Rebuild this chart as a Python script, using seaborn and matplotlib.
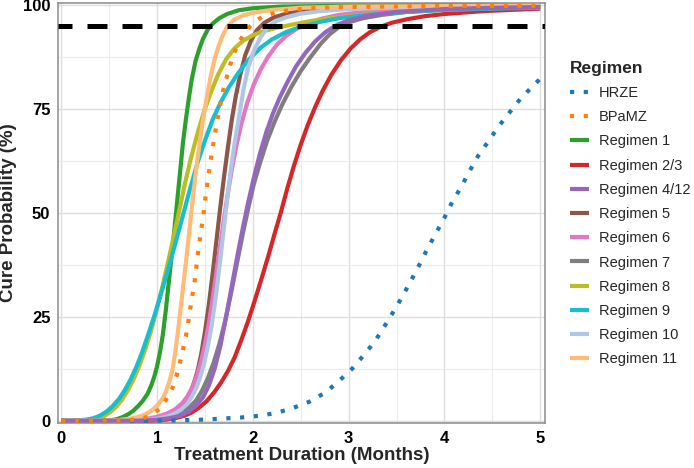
import pandas as pd
import matplotlib.pyplot as plt
import seaborn as sns

# --- Curves: (months, cure %) ---
hrze_x = [0, 1.0, 1.2, 1.35, 1.503, 1.69, 1.879, 2.064, 2.244, 2.42, 2.59, 2.756, 2.89, 3.035, 3.15, 3.27,
          3.37, 3.466, 3.56, 3.65, 3.737, 3.82, 3.91, 4.0, 4.08, 4.175, 4.26, 4.35, 4.457, 4.56,
          4.676, 4.79, 4.92, 5.0]
hrze_y = [0, 0.02, 0.1, 0.2, 0.3, 0.55, 0.8, 1.2, 1.9, 3.1, 4.6, 6.8, 9.4, 12.5, 15.6, 19,
          22.6, 26.2, 29.9, 33.7, 37.5, 41.3, 45.1, 48.9, 52.6, 56.3, 60, 63.7, 67.2, 70.7,
          74.1, 77.4, 80.5, 82.3]

bpamz_x = [0, 0.6, 0.75, 0.85, 0.92, 0.963, 1.02, 1.075, 1.16, 1.218, 1.26, 1.30, 1.33, 1.357, 1.388,
           1.41, 1.433, 1.458, 1.485, 1.506, 1.531, 1.558, 1.587, 1.618, 1.65, 1.688, 1.736, 1.79,
           1.861, 1.92, 1.973, 2.04, 2.119, 2.25, 2.4, 2.7, 3.0, 4.0, 5.0]
bpamz_y = [0, 0.05, 0.25, 0.6, 1.1, 1.7, 2.8, 4.3, 7.9, 12, 16.1, 20.3, 24.5, 28.7, 32.9,
           37.2, 41.5, 45.7, 49.9, 54.1, 58.3, 62.5, 66.7, 71, 75, 79.4, 83.5, 87.8,
           91.4, 93.5, 95, 96.4, 97.5, 98.3, 98.9, 99.4, 99.6, 99.85, 99.9]

r1_x = [0, 0.4, 0.5, 0.58, 0.64, 0.70, 0.75, 0.80, 0.85, 0.90, 0.94, 0.97, 1.00, 1.03, 1.06, 1.09,
        1.12, 1.15, 1.18, 1.21, 1.24, 1.27, 1.30, 1.33, 1.36, 1.40, 1.44, 1.48, 1.53, 1.58, 1.65,
        1.73, 1.85, 2.0, 2.3, 3.0, 5.0]
r1_y = [0, 0.0, 0.1, 0.4, 0.9, 1.6, 2.4, 3.5, 4.8, 6.5, 8.6, 10.6, 13.2, 16.5, 20.8, 26.5,
        33, 39.5, 46, 53, 60, 67, 72.5, 77.5, 82, 86.5, 89.5, 92, 94.2, 95.6, 96.9,
        97.9, 98.8, 99.3, 99.7, 99.9, 99.95]

r23_x = [0, 0.8, 0.95, 1.1, 1.2, 1.28, 1.36, 1.44, 1.52, 1.60, 1.67, 1.74, 1.81, 1.88, 1.95, 2.02,
         2.09, 2.16, 2.22, 2.29, 2.36, 2.43, 2.50, 2.57, 2.65, 2.73, 2.82, 2.92, 3.02, 3.12, 3.22,
         3.33, 3.45, 3.6, 3.8, 4.0, 4.4, 5.0]
r23_y = [0, 0.02, 0.1, 0.3, 0.7, 1.2, 2, 3.2, 4.8, 7, 9.3, 12, 15.3, 19.5, 24, 29,
         34.2, 39.6, 44.5, 50, 56, 61.5, 66.5, 71, 75.5, 79.5, 83.3, 86.8, 89.6, 91.8, 93.5,
         94.8, 95.8, 96.6, 97.4, 97.9, 98.6, 99.2]

r412_x = [0, 0.8, 1.0, 1.12, 1.24, 1.33, 1.41, 1.48, 1.54, 1.60, 1.66, 1.72, 1.78, 1.84, 1.90, 1.95,
          2.01, 2.07, 2.14, 2.21, 2.28, 2.36, 2.45, 2.55, 2.65, 2.76, 2.88, 3.0, 3.2, 3.5, 4.0,
          4.5, 5.0]
r412_y = [0, 0.03, 0.25, 0.6, 1.2, 2.2, 3.7, 5.7, 8.5, 12.5, 18, 25, 32.5, 40, 47, 52.5,
          58.5, 64, 69.5, 74, 77.8, 81.5, 85.3, 88.6, 91.3, 93.6, 95.3, 96.4, 97.5, 98.4, 99.1,
          99.4, 99.6]

r5_x = [0, 0.7, 0.9, 1.0, 1.08, 1.16, 1.23, 1.29, 1.34, 1.38, 1.42, 1.46, 1.50, 1.54, 1.58, 1.62,
        1.66, 1.70, 1.74, 1.78, 1.82, 1.87, 1.92, 1.98, 2.04, 2.12, 2.22, 2.35, 2.6, 3.0, 4.0, 5.0]
r5_y = [0, 0.03, 0.3, 0.6, 1.1, 1.9, 3.0, 4.5, 6.5, 8.8, 11.8, 16, 21.5, 28, 35.5, 43.5,
        51.5, 59, 66, 72.5, 78, 83.5, 88, 91.5, 94, 95.8, 97.1, 98.0, 98.9, 99.5, 99.8, 99.9]

r6_x = [0, 0.6, 0.8, 0.92, 1.02, 1.11, 1.19, 1.26, 1.32, 1.37, 1.42, 1.46, 1.50, 1.54, 1.58, 1.62,
        1.66, 1.70, 1.74, 1.78, 1.83, 1.88, 1.94, 2.01, 2.08, 2.16, 2.25, 2.35, 2.46, 2.58, 2.72,
        2.9, 3.2, 3.6, 4.2, 5.0]
r6_y = [0, 0.03, 0.25, 0.6, 1.1, 1.8, 2.8, 4.2, 6, 8.2, 11.2, 14.5, 18.5, 23.5, 29.5, 36,
        42.5, 49, 55, 60.5, 66.5, 71.5, 76.5, 81, 84.5, 87.7, 90.5, 92.7, 94.4, 95.7, 96.8,
        97.7, 98.5, 99.0, 99.4, 99.7]

r7_x = [0, 0.75, 0.95, 1.08, 1.17, 1.26, 1.34, 1.41, 1.47, 1.53, 1.59, 1.65, 1.71, 1.77, 1.83, 1.89,
        1.95, 2.01, 2.08, 2.15, 2.23, 2.31, 2.40, 2.50, 2.60, 2.71, 2.80, 2.90, 3.0, 3.15, 3.35,
        3.6, 4.0, 4.5, 5.0]
r7_y = [0, 0.03, 0.3, 0.7, 1.2, 2.0, 3.3, 5, 7.3, 10.3, 14, 18.5, 24, 30.5, 37.5, 44.5,
        51, 57, 62.5, 67.5, 72.2, 76.3, 80.3, 84.2, 87.5, 90.8, 93, 94.8, 95.9, 96.9, 97.7,
        98.4, 99.0, 99.4, 99.6]

r8_x = [0, 0.2, 0.3, 0.38, 0.45, 0.51, 0.57, 0.63, 0.69, 0.75, 0.81, 0.87, 0.93, 0.99, 1.05, 1.11,
        1.17, 1.23, 1.29, 1.35, 1.42, 1.49, 1.56, 1.64, 1.72, 1.81, 1.9, 2.0, 2.1, 2.25, 2.4,
        2.6, 2.8, 3.1, 3.5, 4.0, 4.5, 5.0]
r8_y = [0, 0.05, 0.25, 0.6, 1.2, 2.1, 3.3, 5, 7.2, 9.8, 13, 16.8, 21.2, 26.2, 31.8, 37.8,
        44, 50.5, 57, 63, 69, 74.5, 79, 83.5, 87, 89.7, 91.5, 92.8, 93.7, 94.6, 95.3,
        96.2, 96.9, 97.6, 98.3, 98.9, 99.3, 99.5]

r9_x = [0, 0.15, 0.25, 0.33, 0.40, 0.47, 0.53, 0.60, 0.66, 0.72, 0.78, 0.84, 0.90, 0.96, 1.02, 1.08,
        1.14, 1.20, 1.27, 1.34, 1.42, 1.50, 1.58, 1.66, 1.75, 1.85, 1.96, 2.08, 2.2, 2.35, 2.5,
        2.7, 2.9, 3.2, 3.6, 4.0, 4.5, 5.0]
r9_y = [0, 0.05, 0.25, 0.6, 1.2, 2.2, 3.4, 5.2, 7.3, 9.8, 12.8, 16.3, 20.3, 24.5, 29, 33.7,
        38.5, 43.5, 49.5, 55.5, 62, 67.5, 72.5, 76.5, 80.3, 83.8, 87, 89.8, 91.8, 93.6, 94.8,
        96, 96.9, 97.7, 98.4, 98.9, 99.2, 99.4]

r10_x = [0, 0.7, 0.92, 1.02, 1.10, 1.18, 1.25, 1.31, 1.36, 1.41, 1.45, 1.49, 1.53, 1.57, 1.61, 1.65,
         1.69, 1.73, 1.77, 1.81, 1.85, 1.90, 1.95, 2.01, 2.08, 2.16, 2.25, 2.36, 2.5, 2.7, 3.0,
         3.5, 4.2, 5.0]
r10_y = [0, 0.03, 0.3, 0.6, 1.0, 1.7, 2.7, 4, 5.7, 8, 10.5, 13.8, 18, 23, 29.5, 37,
         45, 53, 60.5, 67, 72.5, 79.5, 85, 89, 92.3, 94.8, 96.3, 97.2, 98.0, 98.6, 99.1,
         99.5, 99.8, 99.9]

r11_x = [0, 0.5, 0.6, 0.7, 0.78, 0.85, 0.92, 0.98, 1.03, 1.07, 1.10, 1.13, 1.16, 1.19, 1.22, 1.25,
         1.28, 1.31, 1.34, 1.37, 1.40, 1.43, 1.46, 1.49, 1.52, 1.56, 1.60, 1.64, 1.68, 1.73, 1.80,
         1.90, 2.0, 2.2, 2.5, 3.0, 5.0]
r11_y = [0, 0.05, 0.2, 0.45, 0.8, 1.3, 2.1, 3.2, 4.5, 5.9, 7.5, 9.6, 12.3, 16.5, 22, 28,
         34, 40, 46.5, 53, 59, 64.5, 69.5, 74, 78, 83, 87, 90, 92.5, 94.8, 96.5,
         97.6, 98.2, 98.9, 99.4, 99.7, 99.9]

target_cure = 95

regimens = ['HRZE', 'BPaMZ', 'Regimen 1', 'Regimen 2/3', 'Regimen 4/12', 'Regimen 5',
            'Regimen 6', 'Regimen 7', 'Regimen 8', 'Regimen 9', 'Regimen 10', 'Regimen 11']
curves = {
    'HRZE': (hrze_x, hrze_y), 'BPaMZ': (bpamz_x, bpamz_y),
    'Regimen 1': (r1_x, r1_y), 'Regimen 2/3': (r23_x, r23_y),
    'Regimen 4/12': (r412_x, r412_y), 'Regimen 5': (r5_x, r5_y),
    'Regimen 6': (r6_x, r6_y), 'Regimen 7': (r7_x, r7_y),
    'Regimen 8': (r8_x, r8_y), 'Regimen 9': (r9_x, r9_y),
    'Regimen 10': (r10_x, r10_y), 'Regimen 11': (r11_x, r11_y),
}
palette = {
    'HRZE': '#1f77b4', 'BPaMZ': '#ff7f0e', 'Regimen 1': '#2ca02c', 'Regimen 2/3': '#d62728',
    'Regimen 4/12': '#9467bd', 'Regimen 5': '#8c564b', 'Regimen 6': '#e377c2',
    'Regimen 7': '#7f7f7f', 'Regimen 8': '#bcbd22', 'Regimen 9': '#17becf',
    'Regimen 10': '#aec7e8', 'Regimen 11': '#ffbb78',
}

sns.set_theme(style="white")
plt.rcParams['font.family'] = ['Liberation Sans', 'DejaVu Sans']

fig = plt.figure(figsize=(6.94, 4.68), dpi=100)
ax = fig.add_axes([0.0836, 0.0955, 0.7017, 0.8985])

# solid lines first, purple on top of them, dotted references last
draw_order = ['Regimen 1', 'Regimen 2/3', 'Regimen 5', 'Regimen 6', 'Regimen 7', 'Regimen 8',
              'Regimen 9', 'Regimen 10', 'Regimen 11', 'Regimen 4/12', 'HRZE', 'BPaMZ']
for name in draw_order:
    xs, ys = curves[name]
    df = pd.DataFrame({'month': xs, 'cure': ys})
    if name in ('HRZE', 'BPaMZ'):
        sns.lineplot(data=df, x='month', y='cure', ax=ax, color=palette[name], label=name,
                     linewidth=3.0, linestyle=(0, (1, 2.3)), dash_capstyle='butt', zorder=4)
    else:
        sns.lineplot(data=df, x='month', y='cure', ax=ax, color=palette[name], label=name,
                     linewidth=3.0, solid_capstyle='butt', solid_joinstyle='round', zorder=3)

ax.axhline(target_cure, color='black', linewidth=3.6, linestyle=(1.2, (4, 3)), zorder=5)

ax.set_xlim(-0.035, 5.05)
ax.set_ylim(-0.6, 100.6)
ax.set_xticks([0, 1, 2, 3, 4, 5])
ax.set_yticks([0, 25, 50, 75, 100])
ax.set_xticks([0.5, 1.5, 2.5, 3.5, 4.5], minor=True)
ax.set_yticks([12.5, 37.5, 62.5, 87.5], minor=True)
ax.grid(which='major', color='#dedede', linewidth=1.0)
ax.grid(which='minor', color='#ebebeb', linewidth=0.8)
ax.set_axisbelow(True)
for s in ax.spines.values():
    s.set_color('#8a8a8a')
    s.set_linewidth(1.1)
ax.tick_params(which='major', length=3.5, width=1.0, color='#8a8a8a', pad=2,
               labelsize=12, labelcolor='black')
ax.tick_params(which='minor', length=0)
for lab in ax.get_xticklabels() + ax.get_yticklabels():
    lab.set_fontweight('bold')

ax.set_xlabel('Treatment Duration (Months)', fontsize=13.5, fontweight='bold', labelpad=1)
ax.set_ylabel('Cure Probability (%)', fontsize=13.5, fontweight='bold', labelpad=4)

handles, labels = ax.get_legend_handles_labels()
lookup = dict(zip(labels, handles))
leg = ax.legend([lookup[r] for r in regimens], regimens, title='Regimen',
                loc='upper left', bbox_to_anchor=(564 / 694, 1 - 55 / 468),
                bbox_transform=fig.transFigure, frameon=False, fontsize=10.5,
                handlelength=1.3, handletextpad=0.7, labelspacing=0.7,
                alignment='left', borderaxespad=0)
leg.get_title().set_fontweight('bold')
leg.get_title().set_fontsize(12.5)

fig.savefig('out.png', dpi=100)
